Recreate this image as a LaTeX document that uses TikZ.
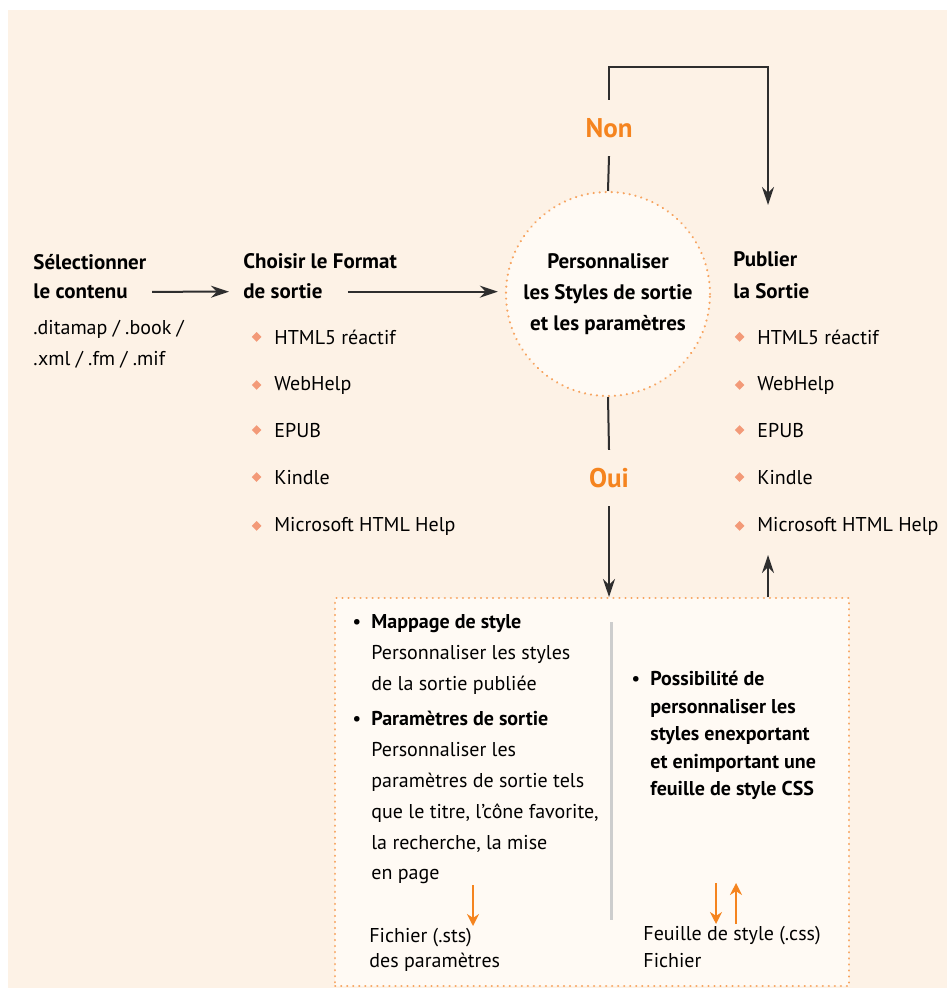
\documentclass[tikz,border=0pt]{standalone}
\usepackage{fontspec}
\setmainfont{PT Sans}
\usetikzlibrary{shapes.geometric, arrows.meta, calc, positioning}
\definecolor{creambg}{HTML}{FDF2E6}
\definecolor{boxfill}{HTML}{FFFAF4}
\definecolor{orangetxt}{HTML}{F5841F}
\definecolor{dotorange}{HTML}{F7A460}
\definecolor{diamondpink}{HTML}{F39A78}
\definecolor{rulegray}{HTML}{CDCDCD}
\definecolor{linegray}{HTML}{2E2E2E}

\tikzset{
    txt/.style={anchor=base west, inner sep=0pt, font=\fontsize{10}{15}\selectfont},
    head/.style={txt, font=\fontsize{10.5}{15}\selectfont\bfseries},
    fmt/.style={txt, label={[diamond, fill=diamondpink, inner sep=0pt, minimum size=5pt, label distance=6pt]left:{}}},
    para/.style={anchor=north west, inner sep=0pt, align=left},
    decision/.style={inner ysep=9pt, text=orangetxt, font=\fontsize{13.5}{15}\selectfont\bfseries},
    dotline/.style={draw=dotorange, line width=1.2pt, line cap=round, dash pattern=on 0.01pt off 3pt},
    circ/.style={circle, dotline, fill=boxfill, minimum size=102pt, inner sep=0pt, align=center,
        font=\fontsize{10.5}{15.5}\selectfont\bfseries},
    cfgbox/.style={rectangle, dotline, fill=boxfill, inner sep=0pt},
    line/.style={draw=linegray, line width=1pt},
    conn/.style={line, -{Stealth[length=9pt, width=6pt]}},
    orangearr/.style={draw=orangetxt, line width=1.3pt, -{Stealth[length=6pt, width=6pt]}}
}

\begin{document}
\begin{tikzpicture}[x=0.5pt, y=-0.5pt]
    \useasboundingbox (0,0) rectangle (947,989);
    \fill[creambg] (8,10) rectangle (947,988);

    % source
    \node [head] (sel)  at (33,270) {Sélectionner};
    \node [head] (selb) at (33,299) {le contenu};
    \node [txt]  (ext)  at (33,335) {.ditamap / .book /};
    \node [txt]  (extb) at (33,365) {.xml / .fm / .mif};

    % formats
    \node [head] (fmt)  at (243,269) {Choisir le Format};
    \node [head] (fmtb) at (243,299) {de sortie};
    \node [fmt] (fa) at (274,344) {HTML5 réactif};
    \node [fmt] (fb) at (274,390) {WebHelp};
    \node [fmt] (fc) at (274,437) {EPUB};
    \node [fmt] (fd) at (274,484) {Kindle};
    \node [fmt] (fe) at (274,531) {Microsoft HTML Help};

    % styles
    \node [circ] (perso) at (608,294) {Personnaliser\\les Styles de sortie\\et les paramètres};

    % publish
    \node [head] (pub)  at (733,267) {Publier};
    \node [head] (pubb) at (733,299) {la Sortie};
    \node [fmt] (pa) at (757,344) {HTML5 réactif};
    \node [fmt] (pb) at (757,390) {WebHelp};
    \node [fmt] (pc) at (757,437) {EPUB};
    \node [fmt] (pd) at (757,484) {Kindle};
    \node [fmt] (pe) at (757,531) {Microsoft HTML Help};

    % decisions
    \node [decision] (non) at (609,128) {Non};
    \node [decision] (oui) at (609,478) {Oui};

    % settings box
    \node [cfgbox, anchor=north west, minimum width=257pt, minimum height=194pt] (cfg) at (334,597) {};
    \draw[rulegray, line width=1.5pt] (611,622) -- (611,920);

    \node [txt] (bma) at (352,628) {•};
    \node [para, font=\fontsize{10}{15.4}\selectfont] (map) at (371,614)
        {\textbf{Mappage de style}\\Personnaliser les styles\\de la sortie publiée};
    \node [txt] (bpa) at (352,725) {•};
    \node [para, font=\fontsize{10}{15.4}\selectfont] (par) at (371,711)
        {\textbf{Paramètres de sortie}\\Personnaliser les\\paramètres de sortie tels\\que le titre, l'cône favorite,\\la recherche, la mise\\en page};
    \node [para, font=\fontsize{10}{12.5}\selectfont] (sts) at (369,928) {Fichier (.sts)\\des paramètres};

    \node [txt] (bcss) at (631,685) {•};
    \node [para, font=\fontsize{10}{13.75}\selectfont\bfseries] (css) at (650,671)
        {Possibilité de\\personnaliser les\\styles enexportant\\et enimportant une\\feuille de style CSS};
    \node [para, font=\fontsize{10}{13.5}\selectfont] (cssf) at (643,926) {Feuille de style (.css)\\Fichier};

    % free ends
    \coordinate (loop)   at (768,67);
    \coordinate (pubtop) at (768,205);
    \coordinate (pubin)  at (768,555);
    \coordinate (stsa)   at (473,885);
    \coordinate (cssa)   at (716,883);
    \coordinate (cssb)   at (736,883);

    % connectors
    \draw[conn] ($(selb.east)+(24,0)$) -- ($(fmtb.west)+(-14,0)$);
    \draw[conn] ($(fmtb.east)+(25,0)$) -- ($(fmtb.east -| perso.west)+(-7,0)$);
    \draw[line] (perso.north) -- (non.south);
    \draw[conn] (non.north) |- (loop) -- (pubtop);
    \draw[line] (perso.south) -- (oui.north);
    \draw[conn] (oui.south) -- (oui.south |- cfg.north);
    \draw[conn] (cfg.north -| pubin) -- (pubin);

    \draw[orangearr] (stsa) -- ($(stsa |- sts.north)+(0,-2)$);
    \draw[orangearr] (cssa) -- ($(cssa |- cssf.north)+(0,-2)$);
    \draw[orangearr] ($(cssb |- cssf.north)+(0,-2)$) -- (cssb);
\end{tikzpicture}
\end{document}
